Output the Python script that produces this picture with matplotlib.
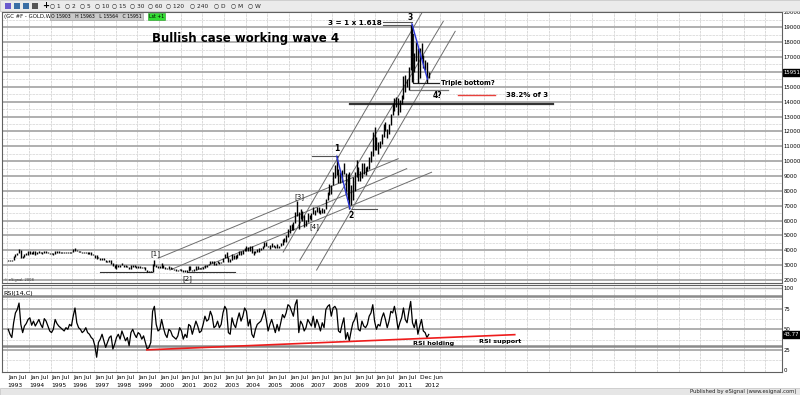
import numpy as np
import matplotlib.pyplot as plt
import matplotlib.transforms as mtransforms

# The contract is quoted x10 on the chart (1923 -> 19230).
high_usd = [
    334, 335, 338, 361, 378, 380, 406, 405, 362, 372, 379, 392,  # 1993
    396, 386, 393, 392, 389, 392, 389, 386, 398, 397, 391, 385,  # 1994
    381, 380, 395, 393, 392, 391, 389, 388, 387, 387, 390, 389,  # 1995
    407, 416, 403, 398, 394, 390, 389, 390, 388, 386, 386, 373,  # 1996
    368, 366, 358, 346, 350, 346, 335, 330, 335, 335, 313, 299,  # 1997
    306, 302, 301, 313, 304, 298, 296, 290, 298, 302, 300, 295,  # 1998
    292, 292, 290, 289, 289, 266, 264, 259, 305, 338, 300, 291,  # 1999
    292, 314, 298, 290, 281, 292, 290, 280, 277, 274, 270, 274,  # 2000
    272, 269, 267, 265, 294, 294, 270, 277, 294, 292, 282, 281,  # 2001
    287, 303, 304, 311, 327, 329, 327, 316, 326, 324, 323, 350,  # 2002
    372, 388, 352, 341, 375, 368, 365, 376, 392, 392, 401, 418,  # 2003
    428, 420, 428, 430, 395, 398, 409, 414, 418, 430, 456, 457,  # 2004
    428, 436, 446, 437, 430, 442, 429, 448, 476, 480, 500, 541,  # 2005
    573, 575, 587, 655, 732, 660, 677, 663, 639, 605, 649, 640,  # 2006
    652, 690, 671, 694, 690, 669, 684, 681, 745, 795, 845, 840,  # 2007
    928, 975, 1033, 945, 925, 943, 988, 922, 910, 930, 840, 890,  # 2008
    925, 1007, 962, 933, 985, 990, 960, 965, 1025, 1070, 1195, 1227,  # 2009
    1163, 1130, 1134, 1180, 1249, 1265, 1213, 1250, 1315, 1388, 1424, 1432,  # 2010
    1425, 1414, 1447, 1575, 1577, 1553, 1633, 1917, 1923, 1727, 1804, 1764,  # 2011
    1764, 1792, 1715, 1678, 1668, 1600,  # 2012
]
low_usd = [
    326, 326, 326, 336, 355, 366, 383, 350, 345, 355, 368, 369,  # 1993
    377, 375, 377, 371, 374, 380, 381, 376, 384, 383, 380, 374,  # 1994
    372, 371, 374, 385, 382, 383, 382, 380, 381, 381, 381, 384,  # 1995
    387, 398, 393, 388, 388, 381, 381, 385, 378, 378, 371, 367,  # 1996
    345, 340, 347, 337, 338, 336, 318, 318, 319, 308, 295, 284,  # 1997
    277, 290, 289, 298, 290, 287, 286, 272, 274, 288, 290, 284,  # 1998
    284, 283, 278, 279, 268, 256, 253, 252, 254, 296, 290, 280,  # 1999
    280, 282, 282, 273, 271, 274, 276, 271, 268, 264, 264, 266,  # 2000
    263, 256, 256, 255, 263, 266, 264, 264, 270, 276, 272, 271,  # 2001
    277, 282, 288, 299, 306, 312, 302, 302, 312, 311, 315, 318,  # 2002
    347, 345, 323, 322, 337, 341, 343, 351, 371, 370, 377, 396,  # 2003
    397, 393, 394, 381, 371, 384, 387, 388, 400, 410, 425, 430,  # 2004
    419, 411, 425, 423, 414, 413, 417, 427, 437, 456, 458, 491,  # 2005
    514, 537, 538, 582, 630, 543, 612, 600, 560, 561, 592, 612,  # 2006
    602, 645, 636, 660, 650, 641, 650, 650, 678, 735, 775, 780,  # 2007
    840, 885, 905, 850, 850, 860, 910, 770, 735, 681, 705, 740,  # 2008
    800, 895, 865, 865, 885, 915, 905, 935, 950, 995, 1035, 1075,  # 2009
    1074, 1045, 1088, 1115, 1161, 1200, 1156, 1180, 1243, 1311, 1334, 1361,  # 2010
    1309, 1330, 1383, 1418, 1462, 1496, 1480, 1611, 1532, 1600, 1676, 1523,  # 2011
    1562, 1690, 1627, 1613, 1527, 1556,  # 2012
]

rsi_values = [
    50, 44, 40, 58, 70, 74, 82, 56, 46, 54, 57, 62,  # 1993
    64, 55, 60, 54, 58, 62, 56, 52, 63, 60, 54, 48,  # 1994
    46, 50, 62, 57, 54, 52, 50, 48, 52, 50, 56, 54,  # 1995
    66, 76, 58, 52, 50, 46, 48, 52, 46, 44, 40, 38,  # 1996
    30, 16, 34, 38, 44, 36, 28, 34, 40, 42, 26, 32,  # 1997
    40, 44, 38, 48, 42, 36, 40, 30, 46, 50, 44, 40,  # 1998
    46, 44, 38, 42, 34, 26, 28, 34, 72, 78, 56, 48,  # 1999
    50, 62, 52, 44, 40, 50, 48, 42, 40, 38, 42, 52,  # 2000
    48, 38, 44, 40, 56, 54, 44, 52, 60, 54, 46, 48,  # 2001
    56, 66, 60, 62, 72, 66, 52, 54, 60, 52, 56, 70,  # 2002
    78, 74, 46, 44, 64, 56, 52, 62, 70, 60, 66, 76,  # 2003
    72, 54, 62, 44, 40, 50, 56, 58, 60, 66, 74, 62,  # 2004
    48, 56, 62, 54, 46, 56, 48, 58, 68, 64, 70, 80,  # 2005
    78, 72, 66, 80, 86, 46, 60, 56, 48, 52, 62, 58,  # 2006
    54, 66, 52, 62, 56, 48, 58, 52, 74, 78, 80, 66,  # 2007
    76, 78, 74, 48, 46, 56, 64, 38, 46, 36, 48, 58,  # 2008
    62, 70, 50, 48, 60, 54, 52, 56, 66, 70, 80, 60,  # 2009
    50, 56, 54, 64, 70, 62, 52, 60, 72, 70, 78, 66,  # 2010
    50, 58, 64, 76, 62, 58, 72, 84, 58, 52, 62, 44,  # 2011
    54, 62, 48, 46, 40, 43.77,  # 2012
]

last_price = 15951
last_rsi = 43.77
ohlc_text = "O 15903   H 15963   L 15564   C 15951"
years = list(range(1993, 2012))

# annotation geometry in (year, price)
channel_shallow = [((1999.97, 3470), (2011.05, 10160)),
                   ((2000.51, 2670), (2011.44, 9490)),
                   ((2001.75, 2670), (2012.59, 9250))]
channel_steep = [((2005.74, 3880), (2012.13, 19940)),
                 ((2006.51, 3340), (2013.13, 19400)),
                 ((2007.28, 2670), (2013.68, 18730))]
wave_12 = ((2008.21, 10330), (2008.82, 6810))
wave_3 = ((2011.68, 19230), (2012.40, 15520))

months = np.arange(len(high_usd))
x = 1993 + (months + 0.5) / 12.0
highs = np.array(high_usd) * 10
lows = np.array(low_usd) * 10

fig = plt.figure(figsize=(8, 3.95), dpi=100)
W, H = 800.0, 395.0

def fx(px):
    return px / W

def fy(py):
    return 1 - py / H

# toolbar and status bar
fig.patches.append(plt.Rectangle((0, fy(11)), 1, 11 / H, transform=fig.transFigure,
                                 facecolor='#ebebeb', edgecolor='#c0c0c0', lw=0.5))
fig.patches.append(plt.Rectangle((0, 0), 1, 7 / H, transform=fig.transFigure,
                                 facecolor='#e6e6e6', edgecolor='#c0c0c0', lw=0.5))
for i, c in enumerate(['#6a5acd', '#3a6ea5', '#3a6ea5', '#555555']):
    fig.patches.append(plt.Rectangle((fx(5 + i * 9), fy(9)), 6 / W, 6 / H,
                                     transform=fig.transFigure, facecolor=c, lw=0))
fig.text(fx(42), fy(6), '+', fontsize=6, fontweight='bold', va='center')
toolbar = ['1', '2', '5', '10', '15', '30', '60', '120', '240', 'D', 'M', 'W']
tb_x = [50, 65, 80, 95, 112, 130, 148, 166, 190, 214, 231, 248]
for lab, px in zip(toolbar, tb_x):
    fig.text(fx(px), fy(6), '\u25CB ' + lab, fontsize=4.2, va='center', color='#222222')
fig.text(fx(797), fy(391.5), 'Published by eSignal (www.esignal.com)', fontsize=3.8,
         ha='right', va='center', color='#222222')

ax = fig.add_axes([fx(2), fy(283), 780 / W, 271 / H])
rax = fig.add_axes([fx(2), fy(372), 780 / W, 87 / H], sharex=ax)

x0, x1 = 1992.755, 2028.77
for a in (ax, rax):
    a.set_xlim(x0, x1)
    for yr in range(1993, 2029):
        a.axvline(yr, color='#d4d4d4', lw=0.6, ls=(0, (3, 1)), zorder=0)
    for s in a.spines.values():
        s.set_color('#606060')
        s.set_linewidth(0.8)
    a.tick_params(axis='both', length=0)

# price panel
ax.set_ylim(1800, 20030)
for v in range(2500, 20000, 1000):
    ax.axhline(v, color='#dadada', lw=0.6, ls=(0, (3, 1)), zorder=0)
for v in range(2000, 20001, 1000):
    ax.axhline(v, color='#a9a9a9', lw=1.3, zorder=0)

ax.vlines(x, lows, highs, color='black', lw=1.0, zorder=3)

for (p, q) in channel_shallow + channel_steep:
    ax.plot([p[0], q[0]], [p[1], q[1]], color='#6e6e6e', lw=0.7, zorder=2)
ax.plot([wave_12[0][0], wave_12[1][0]], [wave_12[0][1], wave_12[1][1]], color='#2a35d8', lw=1.0, zorder=4)
ax.plot([wave_3[0][0], wave_3[1][0]], [wave_3[0][1], wave_3[1][1]], color='#2a35d8', lw=1.0, zorder=4)

# horizontal reference lines
ax.plot([1997.28, 1999.66], [2515, 2515], color='#333333', lw=0.8)
ax.plot([2001.28, 2003.51], [2556, 2556], color='#333333', lw=0.8)
ax.plot([2007.05, 2008.28], [10367, 10367], color='#555555', lw=0.8)
ax.plot([2008.90, 2010.05], [6752, 6752], color='#555555', lw=0.8)
ax.plot([2010.36, 2011.67], [19356, 19356], color='#555555', lw=0.8)
ax.plot([2010.36, 2011.67], [19180, 19180], color='#555555', lw=0.8)
ax.plot([2011.74, 2011.74, 2012.94], [18533, 15273, 15273], color='#222222', lw=0.9)
ax.plot([2011.59, 2013.36], [14764, 14764], color='#777777', lw=0.9)
ax.plot([2013.82, 2015.52], [14450, 14450], color='#e8413c', lw=1.0)
ax.plot([2008.82, 2018.19], [13867, 13867], color='#333333', lw=1.6)

lab_kw = dict(fontsize=5, color='#111111', ha='center', va='center')
ax.text(1999.84, 3787, '[1]', **lab_kw)
ax.text(2001.31, 2114, '[2]', **lab_kw)
ax.text(2006.48, 7622, '[3]', **lab_kw)
ax.text(2007.16, 5614, '[4]', **lab_kw)
ax.text(2008.21, 10815, '1', fontsize=5.5, fontweight='bold', ha='center', va='center')
ax.text(2008.87, 6351, '2', fontsize=5.5, fontweight='bold', ha='center', va='center')
ax.text(2011.59, 19670, '3', fontsize=5.5, fontweight='bold', ha='center', va='center')
ax.text(2012.85, 14383, '4?', fontsize=5.5, fontweight='bold', ha='center', va='center')
ax.text(2009.05, 19290, '3 = 1 x 1.618', fontsize=5.2, fontweight='bold', ha='center', va='center')
ax.text(2013.01, 15273, 'Triple bottom?', fontsize=4.8, fontweight='bold', ha='left', va='center')
ax.text(2016.02, 14470, '38.2% of 3', fontsize=5, fontweight='bold', ha='left', va='center')
ax.text(2004.02, 18265, 'Bullish case working wave 4', fontsize=8.5, fontweight='bold',
        ha='center', va='center')
ax.text(0.003, 0.005, '\u00a9 eSignal, 2008', transform=ax.transAxes, fontsize=2.6,
        va='bottom', color='#333333')
ax.text(0.002, 0.994, '(GC #F - GOLD,W)', transform=ax.transAxes, fontsize=3.9,
        va='top', color='#111111')
ax.text(0.0625, 0.993, ohlc_text, transform=ax.transAxes, fontsize=3.3, va='top',
        bbox=dict(facecolor='#c9c9c9', edgecolor='#9a9a9a', lw=0.4, pad=0.8))
ax.text(0.188, 0.993, 'Lst +1', transform=ax.transAxes, fontsize=3.3, va='top',
        bbox=dict(facecolor='#33dd33', edgecolor='#229922', lw=0.4, pad=0.8))

ax.yaxis.tick_right()
ticks = [v for v in range(2000, 20001, 1000) if v != 16000]
ax.set_yticks(ticks)
ax.set_yticklabels([str(v) for v in ticks], fontsize=3.9)
ax.tick_params(axis='y', pad=1.2)
plt.setp(ax.get_xticklabels(), visible=False)
trans = mtransforms.blended_transform_factory(ax.transAxes, ax.transData)
ax.text(1.002, last_price, str(last_price), transform=trans, fontsize=3.9, color='white',
        va='center', ha='left', bbox=dict(facecolor='black', edgecolor='black', pad=0.5))

# RSI panel
rax.set_ylim(-2, 104)
for v in (12.5, 37.5, 62.5, 87.5):
    rax.axhline(v, color='#dadada', lw=0.6, ls=(0, (3, 1)), zorder=0)
for v in (25, 50, 75):
    rax.axhline(v, color='#a9a9a9', lw=1.3, zorder=0)
rax.axhline(90, color='#8a8a8a', lw=1.8, zorder=0)
rax.axhline(30, color='#8a8a8a', lw=1.8, zorder=0)
rax.axhline(100, color='#a9a9a9', lw=1.0, zorder=0)

rax.plot(x, rsi_values, color='black', lw=0.9, zorder=3)
rax.plot([1999.44, 2016.43], [25, 43.5], color='#ee1c1c', lw=1.2, zorder=4)
rax.text(2011.72, 33.3, 'RSI holding', fontsize=4.6, fontweight='bold', va='center')
rax.text(2014.78, 35.4, 'RSI support', fontsize=4.6, fontweight='bold', va='center')
rax.text(0.002, 0.93, 'RSI(14,C)', transform=rax.transAxes, fontsize=4.6, va='top')

rax.yaxis.tick_right()
rax.set_yticks([0, 25, 50, 75, 100])
rax.set_yticklabels(['0', '25', '50', '75', '100'], fontsize=3.9)
rax.tick_params(axis='y', pad=1.2)
rtrans = mtransforms.blended_transform_factory(rax.transAxes, rax.transData)
rax.text(1.002, last_rsi, '%.2f' % last_rsi, transform=rtrans, fontsize=3.9, color='white',
         va='center', ha='left', bbox=dict(facecolor='black', edgecolor='black', pad=0.5))

# time axis labels
rax.set_xticks([])
for yr in years:
    rax.text(yr + 0.05, -6, 'Jan Jul', fontsize=4.3, ha='left', va='top')
    rax.text(yr + 0.02, -16, str(yr), fontsize=4.3, ha='left', va='top')
rax.text(2012.06, -6, 'Dec Jun', fontsize=4.3, ha='left', va='top')
rax.text(2012.25, -16, '2012', fontsize=4.3, ha='left', va='top')

fig.savefig('out.png', dpi=100)
